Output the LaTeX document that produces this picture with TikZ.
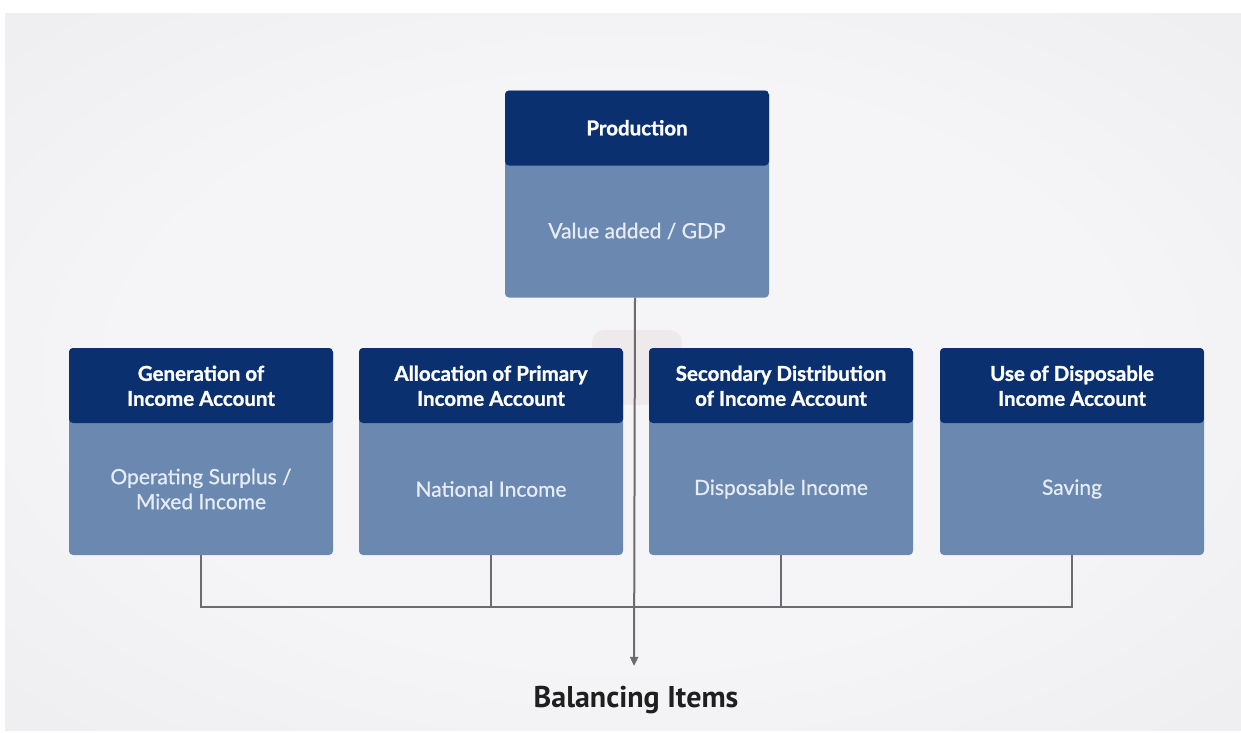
\documentclass[tikz,border=0pt]{standalone}
\usepackage{fontspec}
\setmainfont{Lato}
\newfontfamily\hdb[FakeBold=1.2]{Lato Bold}
\newfontfamily\semib[FakeBold=0.8]{Lato}
\newfontfamily\labfont{PT Sans}
\usetikzlibrary{arrows.meta}
\definecolor{hdr}{HTML}{0A3070}
\definecolor{bdy}{HTML}{6A88B0}
\definecolor{bodytxt}{HTML}{E6ECF5}
\definecolor{lnc}{HTML}{6C6C70}
\definecolor{bgin}{HTML}{F5F5F7}
\definecolor{bgmid}{HTML}{E9E9EC}
\definecolor{bgout}{HTML}{D6D5DB}
\definecolor{wm}{HTML}{EEEAEC}
\pgfdeclareradialshading{bgshade}{\pgfpoint{0bp}{0bp}}{color(0bp)=(bgin); color(20bp)=(bgin); color(48bp)=(bgmid); color(72bp)=(bgout)}
\tikzset{
  box/.style={rectangle, rounded corners=4pt, fill=bdy, minimum width=264pt,
    minimum height=207pt, inner sep=0pt,
    path picture={\fill[hdr] (path picture bounding box.north west) rectangle
      ([yshift=-75pt]path picture bounding box.north east);}},
  hdrtxt/.style={text=white, align=center, font=\hdb\fontsize{20.5}{25}\selectfont, inner sep=0pt},
  bodytext/.style={text=bodytxt, align=center, font=\semib\fontsize{21}{25}\selectfont, inner sep=0pt},
  conn/.style={draw=lnc, line width=2.2pt},
}
\begin{document}
\begin{tikzpicture}[x=1pt, y=-1pt]
\useasboundingbox (0,0) rectangle (1241,732);
\fill[white] (0,0) rectangle (1241,732);
\shade[shading=bgshade] (5,13) rectangle (1241,730);
\fill[wm, rounded corners=12pt] (592,330) rectangle (682,405);

% top box
\node[box] (top) at (637,194) {};
\node[hdrtxt] (topH) at ([yshift=-37.5pt]top.north) {Production};
\node[bodytext] (topB) at ([yshift=-37pt]top.center) {Value added / GDP};

% lower boxes
\node[box] (b1) at (201,451.5) {};
\node[box] (b2) at (491,451.5) {};
\node[box] (b3) at (781,451.5) {};
\node[box] (b4) at (1072,451.5) {};

\node[hdrtxt] (b1H) at ([yshift=-38pt]b1.north) {Generation of\\Income Account};
\node[hdrtxt] (b2H) at ([yshift=-38pt]b2.north) {Allocation of Primary\\Income Account};
\node[hdrtxt] (b3H) at ([yshift=-38pt]b3.north) {Secondary Distribution\\of Income Account};
\node[hdrtxt] (b4H) at ([yshift=-38pt]b4.north) {Use of Disposable\\Income Account};

\node[bodytext] (b1B) at ([yshift=-37.5pt]b1.center) {Operating Surplus /\\Mixed Income};
\node[bodytext] (b2B) at ([yshift=-37.5pt]b2.center) {National Income};
\node[bodytext] (b3B) at ([yshift=-37.5pt]b3.center) {Disposable Income};
\node[bodytext] (b4B) at ([yshift=-37.5pt]b4.center) {Saving};

% label
\node[font=\labfont\bfseries\fontsize{30}{34}\selectfont, text=black!88, inner sep=0pt] (bal) at (636,700) {Balancing Items};

% connectors
\coordinate (bus) at (0,607);
\draw[conn] (b1.south) -- (b1.south |- bus) -- (b4.south |- bus) -- (b4.south);
\draw[conn] (b2.south) -- (b2.south |- bus);
\draw[conn] (b3.south) -- (b3.south |- bus);
\draw[conn, line width=2pt, -{Triangle[length=9pt,width=8pt]}, shorten >=20pt] ([xshift=-2pt]top.south) -- ([xshift=-2pt]bal.north);
\end{tikzpicture}
\end{document}
